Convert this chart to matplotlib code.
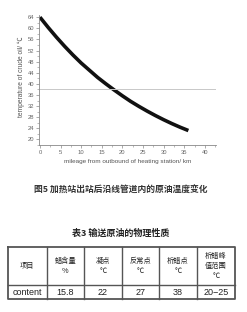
import matplotlib
matplotlib.use("Agg")
import matplotlib.pyplot as plt
from matplotlib.ticker import MultipleLocator

plt.rcParams['font.family'] = ['Liberation Sans', 'Noto Sans CJK SC', 'DejaVu Sans']

# ---- data ----
mileage_km = [0, 2, 4, 6, 8, 10, 12, 14, 16, 18, 20, 22, 24, 26, 28, 30, 32, 34, 36]
temperature_c = [64, 60.3, 56.8, 53.5, 50.4, 47.5, 44.9, 42.3, 40.0, 37.8, 35.7,
                 33.7, 31.9, 30.2, 28.6, 27.1, 25.7, 24.4, 23.2]
wax_point = 38
x_ticks = [0, 5, 10, 15, 20, 25, 30, 35, 40]
y_ticks = [20, 24, 28, 32, 36, 40, 44, 48, 52, 56, 60, 64]

fig_caption = "图5 加热站出站后沿线管道内的原油温度变化"
table_title = "表3 输送原油的物理性质"
table_header = ["项目", "蜡含量\n%", "凝点\n℃", "反常点\n℃", "析蜡点\n℃", "析蜡峰\n值范围\n℃"]
table_row = ["content", "15.8", "22", "27", "38", "20−25"]

W, H = 247, 312
fig = plt.figure(figsize=(W / 100, H / 100), dpi=100)

# ---- chart ----
ax = fig.add_axes([38.7 / W, 1 - 145 / H, (216 - 38.7) / W, (145 - 15.5) / H])
ax.plot(mileage_km, temperature_c, color='#111111', lw=2.6, solid_capstyle='butt')
ax.axhline(wax_point, color='#c8c8c8', lw=0.7)
ax.set_xlim(-0.3, 42.7)
ax.set_ylim(18, 64.6)
ax.set_xticks(x_ticks)
ax.set_yticks(y_ticks)
ax.xaxis.set_minor_locator(MultipleLocator(2.5))
ax.yaxis.set_minor_locator(MultipleLocator(2))
for s in ['top', 'right']:
    ax.spines[s].set_visible(False)
for s in ['left', 'bottom']:
    ax.spines[s].set_color('#888888')
    ax.spines[s].set_linewidth(0.6)
ax.tick_params(which='major', direction='out', length=2.2, width=0.5, color='#888888',
               labelsize=4.2, labelcolor='#666666', pad=1.2)
ax.tick_params(which='minor', direction='out', length=1.3, width=0.4, color='#888888')
ax.set_xlabel("mileage from outbound of heating station/ km", fontsize=4.6, color='#555555', labelpad=2.8)
ax.set_ylabel("temperature of crude oil/ ℃", fontsize=4.8, color='#555555', labelpad=3)
ax.yaxis.set_label_coords(-0.075, 0.53)

fig.text(120.5 / W, 1 - 190.5 / H, fig_caption, ha='center', va='center', fontsize=6.3,
         fontweight='bold', color='#333333', family=['Noto Sans CJK SC', 'DejaVu Sans'])

# ---- table ----
fig.text(121 / W, 1 - 233 / H, table_title, ha='center', va='center', fontsize=6.5,
         fontweight='bold', color='#222222', family=['Noto Sans CJK SC', 'DejaVu Sans'])

tax = fig.add_axes([0, 0, 1, 1])
tax.set_xlim(0, W)
tax.set_ylim(H, 0)
tax.axis('off')
col_x = [8, 46.7, 84.3, 121.7, 159.3, 196.7, 235]
top, mid, bot = 246.7, 285, 299
lc = '#555555'
tax.plot([col_x[0], col_x[-1], col_x[-1], col_x[0], col_x[0]], [top, top, bot, bot, top], color=lc, lw=1.3)
tax.plot([col_x[0], col_x[-1]], [mid, mid], color=lc, lw=1.0)
for cx in col_x[1:-1]:
    tax.plot([cx, cx], [top, bot], color=lc, lw=1.0)
for i in range(len(table_header)):
    cx = (col_x[i] + col_x[i + 1]) / 2
    tax.text(cx, (top + mid) / 2, table_header[i], ha='center', va='center', fontsize=5.2,
             color='#222222', linespacing=1.35, family=['Noto Sans CJK SC', 'DejaVu Sans'])
    tax.text(cx, (mid + bot) / 2 + 0.3, table_row[i], ha='center', va='center', fontsize=6.5,
             color='#222222', family=['Liberation Sans', 'DejaVu Sans'])

fig.savefig("out.png", dpi=100)
